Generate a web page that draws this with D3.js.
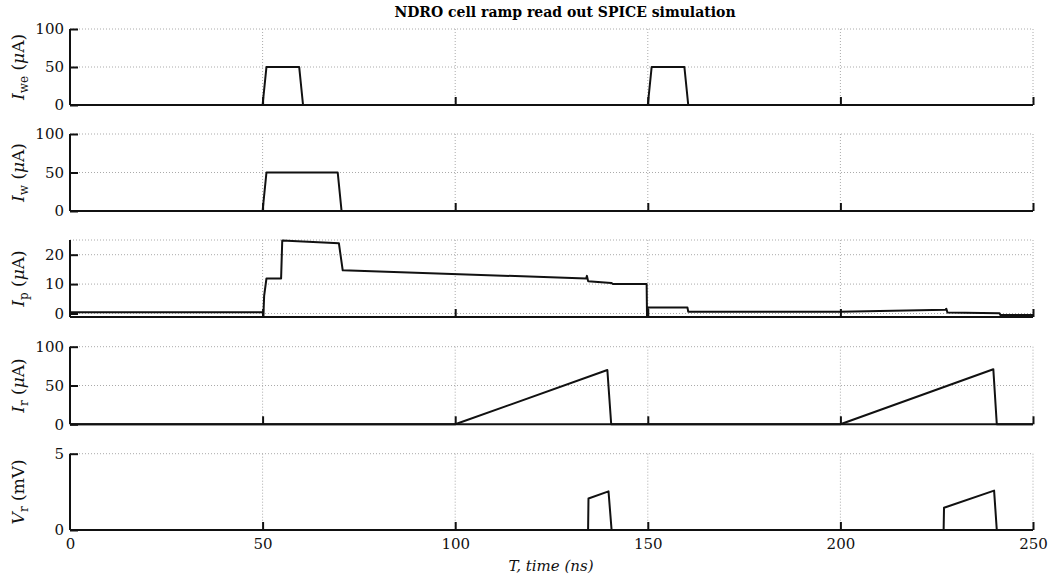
<!DOCTYPE html>
<html>
<head>
<meta charset="utf-8">
<script src="https://cdn.jsdelivr.net/npm/d3@7"></script>
<style>
  body { margin: 0; background: #fff; }
  svg { display: block; font-family: "DejaVu Serif", serif; }
</style>
</head>
<body>
<div id="chart"></div>
<script>
// time ticks (ns)
const timeTicks = [0, 50, 100, 150, 200, 250];

// I_we (uA)
const iweT = [0, 50, 51, 59.5, 60.5, 150, 151, 159.5, 160.5, 250];
const iweV = [0, 0, 50, 50, 0, 0, 50, 50, 0, 0];

// I_w (uA)
const iwT = [0, 50, 51, 69.5, 70.5, 250];
const iwV = [0, 0, 50, 50, 0, 0];

// I_p (uA)
const ipT = [0, 50, 50.2, 50.4, 51, 54.8, 55.1, 69.8, 70.8, 134, 134.2, 134.5, 140.5, 141, 149.7, 149.8, 150, 160.3, 160.5, 200, 227.3, 227.5, 227.8, 241.3, 241.5, 250];
const ipV = [0.4, 0.4, -1, 6, 11.9, 11.9, 24.8, 23.9, 14.7, 11.9, 12.8, 11.0, 10.4, 10.0, 10.0, -1.0, 2.0, 2.0, 0.6, 0.6, 1.3, 1.6, 0.3, 0.1, -0.5, -0.5];

// I_r (uA)
const irT = [0, 100, 139.5, 140.5, 200, 239.7, 240.6, 250];
const irV = [0, 0, 70, 0, 0, 71, 0, 0];

// V_r (mV)
const vrT = [0, 134.5, 134.6, 139.8, 140.6, 226.8, 226.9, 239.9, 240.6, 250];
const vrV = [0, 0, 2.06, 2.53, 0, 0, 1.46, 2.58, 0, 0];

const panels = [
  { sym: 'I', sub: 'we', unit: 'μA', t: iweT, v: iweV, domain: [0, 100], ticks: [0, 50, 100], top: 29, bottom: 105 },
  { sym: 'I', sub: 'w', unit: 'μA', t: iwT, v: iwV, domain: [0, 100], ticks: [0, 50, 100], top: 134, bottom: 211 },
  { sym: 'I', sub: 'p', unit: 'μA', t: ipT, v: ipV, domain: [-1.2, 25], ticks: [0, 10, 20], top: 240, bottom: 317 },
  { sym: 'I', sub: 'r', unit: 'μA', t: irT, v: irV, domain: [0, 100], ticks: [0, 50, 100], top: 346.7, bottom: 424.3 },
  { sym: 'V', sub: 'r', unit: 'mV', t: vrT, v: vrV, domain: [0, 5], ticks: [0, 5], top: 453.7, bottom: 530 }
];

const W = 1049, H = 582;
const left = 70, right = 1033;

const svg = d3.select('#chart').append('svg').attr('width', W).attr('height', H);

const x = d3.scaleLinear().domain([0, 250]).range([left, right]);

svg.append('text')
  .attr('x', 565).attr('y', 17)
  .attr('text-anchor', 'middle')
  .attr('font-weight', 'bold')
  .attr('font-size', 14)
  .text('NDRO cell ramp read out SPICE simulation');

panels.forEach((p, i) => {
  const y = d3.scaleLinear().domain(p.domain).range([p.bottom, p.top]);
  const g = svg.append('g');
  const top = p.domain[1];

  // dotted grid
  g.selectAll('.hg').data(p.ticks.filter(d => d !== 0).concat(p.ticks.includes(top) ? [] : [top]).concat(p.domain[0] < 0 ? [0] : []))
    .enter().append('line')
    .attr('x1', left).attr('x2', right)
    .attr('y1', d => y(d)).attr('y2', d => y(d))
    .attr('stroke', '#aaa').attr('stroke-width', 1).attr('stroke-dasharray', '1,2');
  g.selectAll('.vg').data(timeTicks.filter(d => d > 0))
    .enter().append('line')
    .attr('x1', d => x(d)).attr('x2', d => x(d))
    .attr('y1', y(top)).attr('y2', p.bottom)
    .attr('stroke', '#aaa').attr('stroke-width', 1).attr('stroke-dasharray', '1,2');

  // data line
  const pts = p.t.map((t, k) => [t, p.v[k]]);
  g.append('path')
    .datum(pts)
    .attr('fill', 'none')
    .attr('stroke', '#111')
    .attr('stroke-width', 2)
    .attr('stroke-linejoin', 'round')
    .attr('d', d3.line().x(d => x(d[0])).y(d => y(d[1])));

  // axes
  const yAxis = g.append('g')
    .attr('transform', `translate(${left},0)`)
    .call(d3.axisLeft(y).tickValues(p.ticks).tickSize(-8).tickPadding(6).tickFormat(d3.format('d')));
  const xAxis = g.append('g')
    .attr('transform', `translate(0,${p.bottom})`)
    .call(d3.axisBottom(x).tickValues(timeTicks).tickSize(-8).tickPadding(8)
      .tickFormat(i === panels.length - 1 ? d3.format('d') : () => ''));
  [yAxis, xAxis].forEach(a => {
    a.select('.domain').attr('stroke', '#111').attr('stroke-width', 2);
    a.selectAll('.tick line').attr('stroke', '#111').attr('stroke-width', 2);
    a.selectAll('.tick text').attr('font-size', 15).attr('fill', '#111')
      .attr('font-family', '"DejaVu Serif", serif');
  });
  yAxis.select('.domain').attr('d', `M0,${p.bottom}V${y(top)}H0`);
  xAxis.select('.domain').attr('d', `M${left},0H${right}`);
  // only ticks > 0 shown on x
  xAxis.selectAll('.tick line').filter(d => d === 0).remove();

  // y label
  const cy = (p.top + p.bottom) / 2;
  const lab = svg.append('text')
    .attr('transform', `translate(24,${cy}) rotate(-90)`)
    .attr('text-anchor', 'middle')
    .attr('font-size', 17)
    .attr('fill', '#111');
  lab.append('tspan').attr('font-style', 'italic').text(p.sym);
  lab.append('tspan').attr('font-size', 12).attr('dy', 4).text(p.sub);
  lab.append('tspan').attr('dy', -4).text(' (');
  if (p.unit === 'μA') {
    lab.append('tspan').attr('font-style', 'italic').text('μ');
    lab.append('tspan').text('A)');
  } else {
    lab.append('tspan').text('mV)');
  }
});

svg.append('text')
  .attr('x', 551).attr('y', 571)
  .attr('text-anchor', 'middle')
  .attr('font-style', 'italic')
  .attr('font-size', 15)
  .attr('fill', '#111')
  .text('T, time (ns)');
</script>
</body>
</html>
